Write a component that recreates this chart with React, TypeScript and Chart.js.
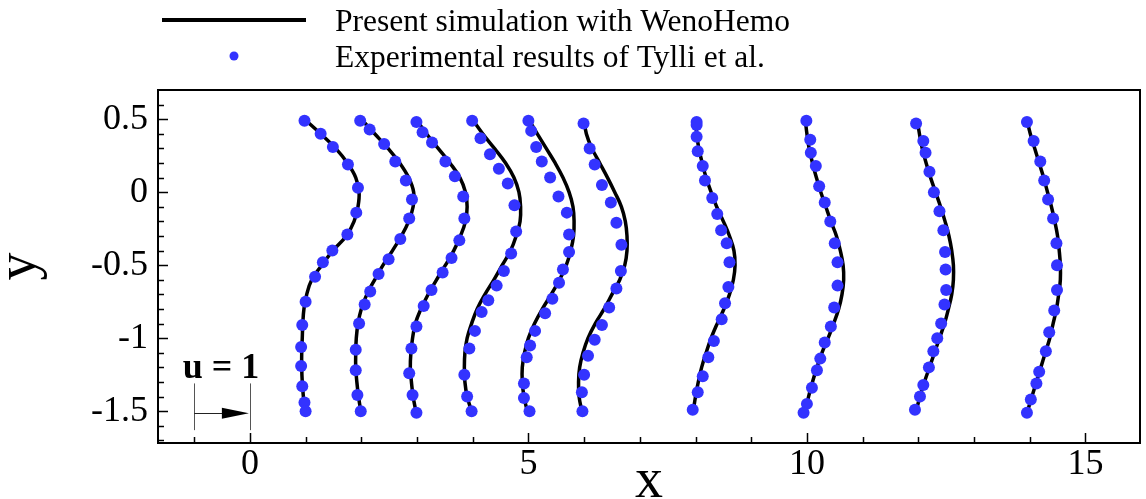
import React, { useEffect, useRef } from 'react';
import { Chart, registerables } from 'chart.js';

Chart.register(...registerables);

const FONT = '"Liberation Serif", "Times New Roman", Times, serif';

// Tick labels
const xTickValues = [0, 5, 10, 15];
const xTickLabels = ['0', '5', '10', '15'];
const yTickValues = [0.5, 0, -0.5, -1, -1.5];
const yTickLabels = ['0.5', '0', '-0.5', '-1', '-1.5'];
const xMinorTicks = [-1, 1, 2, 3, 4, 6, 7, 8, 9, 11, 12, 13, 14];
const yMinorTicks = [0.6, 0.4, 0.3, 0.2, 0.1, -0.1, -0.2, -0.3, -0.4, -0.6, -0.7, -0.8, -0.9, -1.1, -1.2, -1.3, -1.4, -1.6, -1.7];

// Simulation profiles (x position of curve at each y level)
const simY = [0.5, 0.4, 0.3, 0.2, 0.1, 0, -0.1, -0.2, -0.3, -0.4, -0.5, -0.6, -0.7, -0.8, -0.9, -1.0, -1.1, -1.2, -1.3, -1.4, -1.5];
const sim1 = [0.98, 1.27, 1.54, 1.75, 1.90, 1.96, 1.94, 1.87, 1.73, 1.49, 1.29, 1.11, 1.02, 0.97, 0.95, 0.94, 0.93, 0.93, 0.94, 0.96, 0.99];
const sim2 = [2.0, 2.24, 2.48, 2.69, 2.85, 2.94, 2.93, 2.85, 2.72, 2.56, 2.39, 2.24, 2.10, 2.00, 1.94, 1.91, 1.90, 1.90, 1.92, 1.95, 1.99];
const sim3 = [2.98, 3.17, 3.38, 3.59, 3.77, 3.87, 3.90, 3.87, 3.78, 3.66, 3.51, 3.35, 3.20, 3.07, 2.97, 2.92, 2.89, 2.88, 2.90, 2.93, 2.98];
const sim4 = [3.99, 4.18, 4.39, 4.59, 4.74, 4.83, 4.86, 4.85, 4.78, 4.68, 4.53, 4.38, 4.22, 4.08, 3.98, 3.90, 3.86, 3.85, 3.86, 3.90, 3.98];
const sim5 = [5.0, 5.16, 5.32, 5.48, 5.62, 5.73, 5.80, 5.82, 5.81, 5.76, 5.68, 5.56, 5.41, 5.25, 5.11, 5.00, 4.93, 4.89, 4.89, 4.92, 4.98];
const sim6 = [6.0, 6.04, 6.14, 6.28, 6.42, 6.55, 6.67, 6.74, 6.77, 6.77, 6.73, 6.64, 6.50, 6.36, 6.20, 6.07, 5.98, 5.92, 5.90, 5.91, 5.96];
const sim8 = [8.01, 8.02, 8.06, 8.12, 8.19, 8.28, 8.38, 8.50, 8.61, 8.69, 8.71, 8.68, 8.61, 8.51, 8.39, 8.28, 8.19, 8.11, 8.05, 8.00, 7.96];
const sim10 = [9.97, 10.00, 10.04, 10.10, 10.17, 10.25, 10.34, 10.43, 10.53, 10.60, 10.65, 10.66, 10.63, 10.57, 10.48, 10.38, 10.27, 10.18, 10.10, 10.03, 9.97];
const sim12 = [11.98, 12.02, 12.07, 12.14, 12.22, 12.31, 12.40, 12.48, 12.55, 12.60, 12.63, 12.63, 12.60, 12.54, 12.47, 12.38, 12.29, 12.20, 12.11, 12.03, 11.96];
const sim14 = [13.95, 14.01, 14.09, 14.17, 14.25, 14.32, 14.39, 14.45, 14.50, 14.53, 14.55, 14.55, 14.52, 14.48, 14.42, 14.36, 14.28, 14.20, 14.12, 14.04, 13.96];

// Experimental points
const exp1X = [0.98, 1.27, 1.49, 1.76, 1.94, 1.91, 1.75, 1.48, 1.31, 1.17, 1.00, 0.94, 0.92, 0.92, 0.94, 0.98, 1.00];
const exp1Y = [0.49, 0.40, 0.31, 0.19, 0.03, -0.14, -0.29, -0.40, -0.48, -0.58, -0.75, -0.91, -1.06, -1.19, -1.33, -1.44, -1.50];
const exp2X = [1.98, 2.15, 2.41, 2.61, 2.80, 2.91, 2.86, 2.70, 2.49, 2.31, 2.16, 2.06, 1.96, 1.90, 1.90, 1.93, 1.99];
const exp2Y = [0.49, 0.43, 0.33, 0.21, 0.08, -0.05, -0.18, -0.32, -0.46, -0.56, -0.68, -0.77, -0.90, -1.08, -1.22, -1.39, -1.50];
const exp3X = [2.99, 3.10, 3.27, 3.51, 3.68, 3.83, 3.85, 3.76, 3.62, 3.46, 3.26, 3.12, 2.99, 2.90, 2.86, 2.92, 2.99];
const exp3Y = [0.48, 0.41, 0.34, 0.21, 0.11, -0.03, -0.18, -0.33, -0.45, -0.55, -0.67, -0.78, -0.92, -1.07, -1.24, -1.39, -1.51];
const exp4X = [3.99, 4.14, 4.31, 4.47, 4.63, 4.75, 4.78, 4.69, 4.56, 4.43, 4.28, 4.16, 4.04, 3.94, 3.85, 3.90, 3.98];
const exp4Y = [0.49, 0.37, 0.26, 0.16, 0.06, -0.09, -0.27, -0.42, -0.54, -0.64, -0.74, -0.82, -0.95, -1.07, -1.25, -1.40, -1.50];
const exp5X = [5.00, 5.05, 5.14, 5.24, 5.39, 5.54, 5.69, 5.73, 5.73, 5.62, 5.55, 5.43, 5.30, 5.12, 5.03, 4.97, 4.92, 4.92, 5.02];
const exp5Y = [0.49, 0.42, 0.31, 0.21, 0.10, -0.03, -0.14, -0.29, -0.41, -0.53, -0.62, -0.73, -0.83, -0.95, -1.05, -1.13, -1.31, -1.41, -1.50];
const exp6X = [5.99, 6.10, 6.19, 6.32, 6.48, 6.58, 6.67, 6.66, 6.58, 6.45, 6.32, 6.19, 6.07, 6.00, 5.96, 5.97];
const exp6Y = [0.47, 0.30, 0.19, 0.05, -0.07, -0.21, -0.36, -0.54, -0.66, -0.79, -0.91, -1.01, -1.12, -1.25, -1.37, -1.50];
const exp8X = [8.02, 8.02, 8.02, 8.04, 8.13, 8.17, 8.30, 8.39, 8.46, 8.56, 8.61, 8.59, 8.53, 8.47, 8.33, 8.23, 8.13, 8.04, 7.95];
const exp8Y = [0.48, 0.46, 0.38, 0.28, 0.18, 0.08, -0.04, -0.15, -0.26, -0.35, -0.48, -0.65, -0.76, -0.87, -1.02, -1.13, -1.26, -1.37, -1.49];
const exp10X = [9.99, 10.06, 10.07, 10.16, 10.22, 10.32, 10.42, 10.50, 10.55, 10.55, 10.49, 10.43, 10.32, 10.24, 10.18, 10.09, 10.00, 9.94];
const exp10Y = [0.49, 0.36, 0.27, 0.18, 0.04, -0.07, -0.20, -0.35, -0.48, -0.64, -0.79, -0.92, -1.03, -1.14, -1.22, -1.34, -1.45, -1.51];
const exp12X = [11.96, 12.09, 12.13, 12.20, 12.28, 12.38, 12.45, 12.48, 12.49, 12.50, 12.47, 12.41, 12.34, 12.27, 12.19, 12.09, 12.03, 11.94];
const exp12Y = [0.47, 0.35, 0.27, 0.14, 0.00, -0.13, -0.26, -0.41, -0.53, -0.67, -0.77, -0.90, -1.00, -1.09, -1.20, -1.32, -1.40, -1.49];
const exp14X = [13.95, 14.07, 14.19, 14.26, 14.33, 14.42, 14.48, 14.49, 14.49, 14.44, 14.35, 14.29, 14.17, 14.12, 14.02, 13.95];
const exp14Y = [0.48, 0.35, 0.21, 0.08, -0.05, -0.18, -0.35, -0.50, -0.67, -0.81, -0.96, -1.09, -1.23, -1.31, -1.42, -1.51];

const simSeries = [sim1, sim2, sim3, sim4, sim5, sim6, sim8, sim10, sim12, sim14];
const expXSeries = [exp1X, exp2X, exp3X, exp4X, exp5X, exp6X, exp8X, exp10X, exp12X, exp14X];
const expYSeries = [exp1Y, exp2Y, exp3Y, exp4Y, exp5Y, exp6Y, exp8Y, exp10Y, exp12Y, exp14Y];

const legendLabels = ['Present simulation with WenoHemo', 'Experimental results of Tylli et al.'];
const refLabel = 'u = 1';
const refX = [-1, 0];
const refY = [-1.31, -1.63, -1.515];

const DOT = '#3333ff';

const decorPlugin = {
  id: 'decor',
  afterDraw(chart: any) {
    const { ctx, chartArea: a, scales } = chart;
    const xs = scales.x;
    const ys = scales.y;
    ctx.save();
    // ticks (inward)
    ctx.strokeStyle = '#000';
    ctx.lineWidth = 1.5;
    ctx.beginPath();
    xTickValues.forEach((v) => {
      const p = Math.round(xs.getPixelForValue(v)) + 0.5;
      ctx.moveTo(p, a.bottom);
      ctx.lineTo(p, a.bottom - 10);
    });
    xMinorTicks.forEach((v) => {
      const p = Math.round(xs.getPixelForValue(v)) + 0.5;
      ctx.moveTo(p, a.bottom);
      ctx.lineTo(p, a.bottom - 6);
    });
    yTickValues.forEach((v) => {
      const p = Math.round(ys.getPixelForValue(v)) + 0.5;
      ctx.moveTo(a.left, p);
      ctx.lineTo(a.left + 10, p);
    });
    yMinorTicks.forEach((v) => {
      const p = Math.round(ys.getPixelForValue(v)) + 0.5;
      ctx.moveTo(a.left, p);
      ctx.lineTo(a.left + 6, p);
    });
    ctx.stroke();
    // frame
    ctx.lineWidth = 2;
    ctx.strokeRect(a.left, a.top, a.right - a.left, a.bottom - a.top);

    // reference arrow u = 1
    const x0 = xs.getPixelForValue(refX[0]);
    const x1 = xs.getPixelForValue(refX[1]);
    const yt = ys.getPixelForValue(refY[0]);
    const yb = ys.getPixelForValue(refY[1]);
    const ym = ys.getPixelForValue(refY[2]);
    ctx.strokeStyle = '#555';
    ctx.lineWidth = 1;
    ctx.beginPath();
    ctx.moveTo(Math.round(x0) + 0.5, yt);
    ctx.lineTo(Math.round(x0) + 0.5, yb);
    ctx.moveTo(Math.round(x1) + 0.5, yt);
    ctx.lineTo(Math.round(x1) + 0.5, yb);
    ctx.stroke();
    ctx.strokeStyle = '#222';
    ctx.beginPath();
    ctx.moveTo(x0, Math.round(ym) + 0.5);
    ctx.lineTo(x1 - 20, Math.round(ym) + 0.5);
    ctx.stroke();
    ctx.fillStyle = '#000';
    ctx.beginPath();
    ctx.moveTo(x1 - 1, ym);
    ctx.lineTo(x1 - 28, ym - 5.5);
    ctx.lineTo(x1 - 28, ym + 5.5);
    ctx.closePath();
    ctx.fill();
    ctx.font = `bold 36px ${FONT}`;
    ctx.textAlign = 'center';
    ctx.textBaseline = 'alphabetic';
    ctx.fillText(refLabel, (x0 + x1) / 2 - 1, yt - 5);

    // legend
    ctx.strokeStyle = '#000';
    ctx.lineWidth = 4;
    ctx.beginPath();
    ctx.moveTo(162, 20);
    ctx.lineTo(306, 20);
    ctx.stroke();
    ctx.fillStyle = DOT;
    ctx.beginPath();
    ctx.arc(234, 56, 4.5, 0, Math.PI * 2);
    ctx.fill();
    ctx.fillStyle = '#000';
    ctx.font = `31.5px ${FONT}`;
    ctx.textAlign = 'left';
    ctx.fillText(legendLabels[0], 335, 31);
    ctx.fillText(legendLabels[1], 335, 67);
    ctx.restore();
  },
};

export default function App() {
  const ref = useRef<HTMLCanvasElement | null>(null);
  useEffect(() => {
    if (!ref.current) return;
    const datasets: any[] = [];
    simSeries.forEach((s, i) => {
      datasets.push({
        label: `sim${i}`,
        data: simY.map((y, k) => ({ x: s[k], y })),
        showLine: true,
        borderColor: '#000',
        borderWidth: 3.5,
        pointRadius: 0,
        tension: 0.4,
        fill: false,
        order: 1,
      });
    });
    expXSeries.forEach((xsArr, i) => {
      datasets.push({
        label: `exp${i}`,
        data: xsArr.map((x, k) => ({ x, y: expYSeries[i][k] })),
        showLine: false,
        pointRadius: 6,
        pointBackgroundColor: DOT,
        pointBorderWidth: 0,
        order: 0,
      });
    });
    const chart = new Chart(ref.current, {
      type: 'scatter',
      data: { datasets },
      options: {
        animation: false,
        responsive: false,
        devicePixelRatio: 1,
        layout: { padding: { top: 90, right: 5, left: 0, bottom: 0 } },
        plugins: { legend: { display: false }, tooltip: { enabled: false } },
        scales: {
          x: {
            type: 'linear',
            min: -1.65,
            max: 15.98,
            grid: { display: false, drawTicks: false },
            border: { display: false },
            afterBuildTicks: (s: any) => { s.ticks = xTickValues.map((v) => ({ value: v })); },
            afterFit: (s: any) => { s.height = 56; },
            ticks: {
              padding: 0,
              color: '#000',
              font: { family: FONT, size: 36 },
              maxRotation: 0,
              callback: (v: any) => xTickLabels[xTickValues.indexOf(Number(v))] ?? '',
            },
            title: {
              display: true,
              text: 'x',
              color: '#000',
              font: { family: FONT, size: 56 },
              padding: { top: 0, bottom: -17 },
            },
          },
          y: {
            type: 'linear',
            min: -1.718,
            max: 0.7,
            grid: { display: false, drawTicks: false },
            border: { display: false },
            afterBuildTicks: (s: any) => { s.ticks = yTickValues.map((v) => ({ value: v })); },
            afterFit: (s: any) => { s.width = 158; },
            ticks: {
              padding: 10,
              color: '#000',
              font: { family: FONT, size: 36 },
              callback: (v: any) => yTickLabels[yTickValues.indexOf(Number(v))] ?? '',
            },
            title: {
              display: true,
              text: 'y',
              color: '#000',
              font: { family: FONT, size: 56 },
              padding: { top: -13, bottom: 0 },
            },
          },
        },
      },
      plugins: [decorPlugin],
    });
    return () => chart.destroy();
  }, []);
  return (
    <div style={{ position: 'absolute', left: 0, top: 0, width: 1146, height: 499, background: '#fff' }}>
      <canvas ref={ref} width={1146} height={499} style={{ width: 1146, height: 499, display: 'block' }} />
    </div>
  );
}
